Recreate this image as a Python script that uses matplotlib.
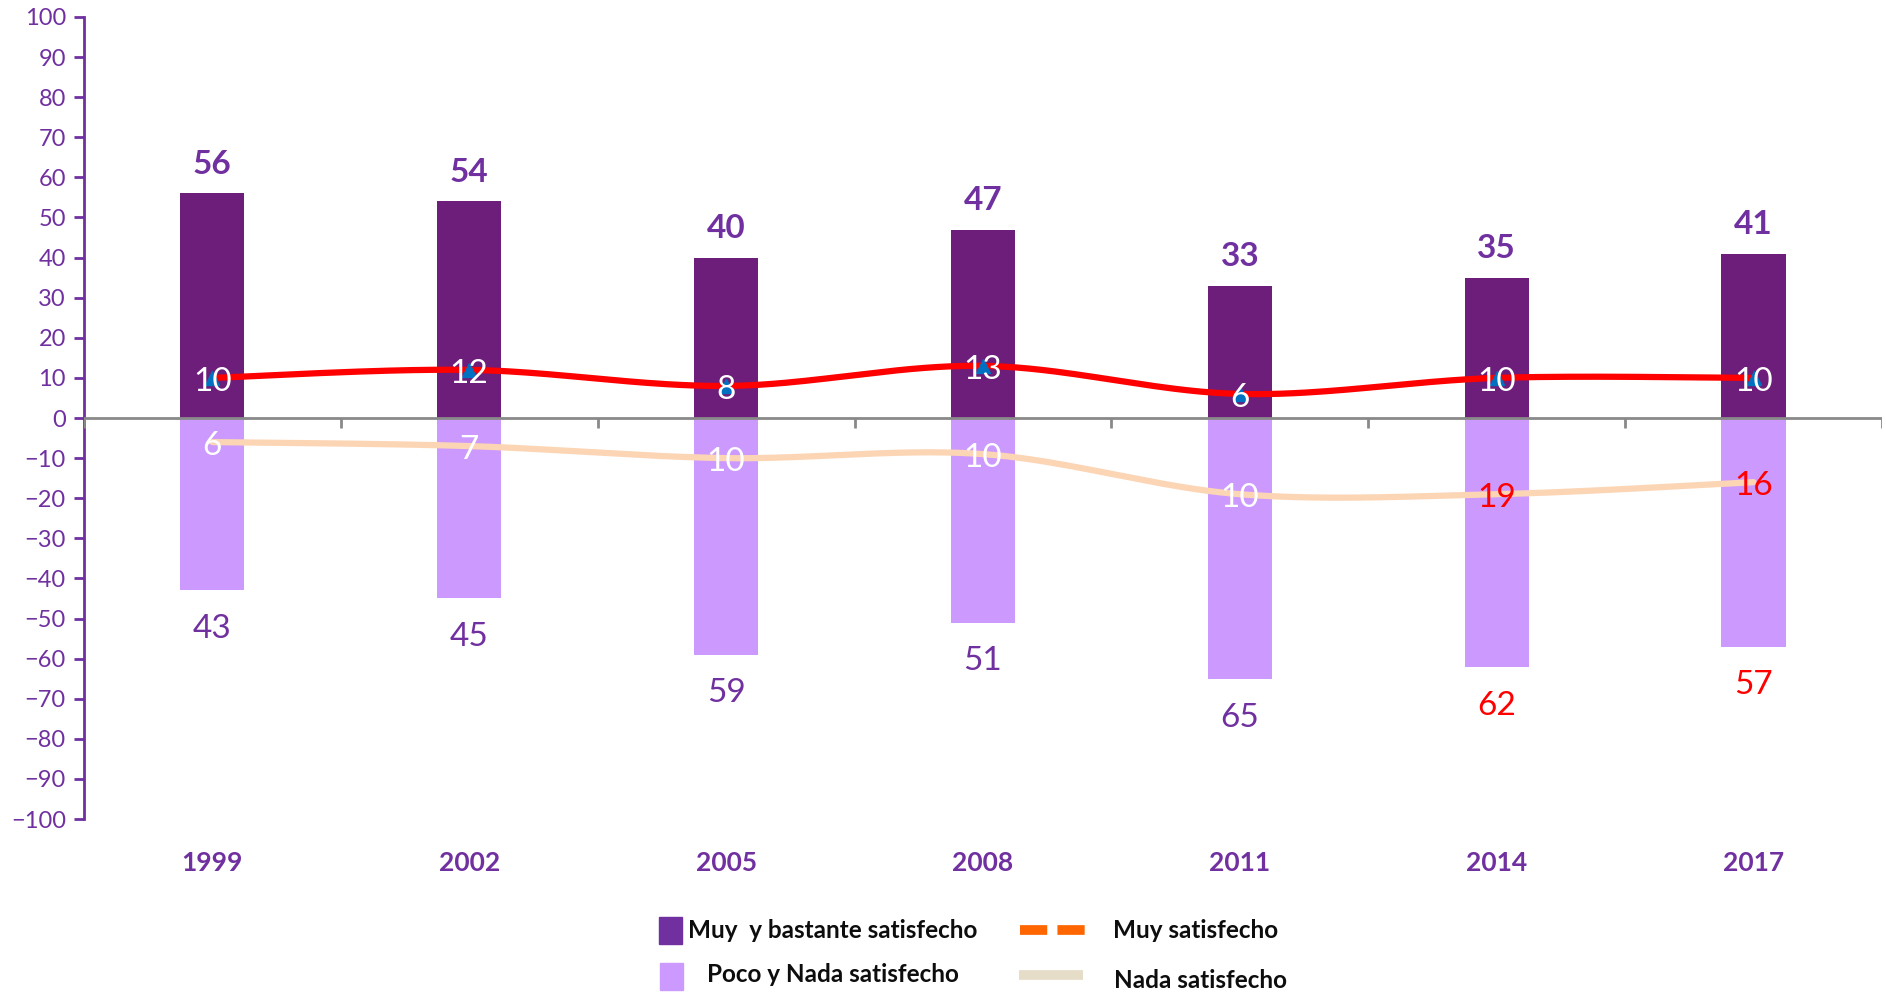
import numpy as np
import matplotlib
matplotlib.use('Agg')
import matplotlib.pyplot as plt
from matplotlib.patches import Rectangle
from matplotlib.lines import Line2D

plt.rcParams['font.family'] = ['Lato', 'DejaVu Sans']

years = ['1999', '2002', '2005', '2008', '2011', '2014', '2017']
muy_bastante = [56, 54, 40, 47, 33, 35, 41]
poco_nada = [-43, -45, -59, -51, -65, -62, -57]
muy_satisf = [10, 12, 8, 13, 6, 10, 10]
nada_satisf = [-6, -7, -10, -9, -19, -19, -16]
nada_labels = ['6', '7', '10', '10', '10', '19', '16']
label_colors = ['#FFFFFF', '#FFFFFF', '#FFFFFF', '#FFFFFF', '#FFFFFF', '#FF0000', '#FF0000']
neg_label_colors = ['#7030A0', '#7030A0', '#7030A0', '#7030A0', '#7030A0', '#FF0000', '#FF0000']

PURPLE = '#7030A0'
DARK = '#6C1E7A'
LIGHT = '#CC99FF'


def smooth(xs, ys, n=40):
    # catmull-rom curve, like excel's smoothed line
    p = np.column_stack([xs, ys]).astype(float)
    p = np.vstack([p[0], p, p[-1]])
    out = []
    for i in range(1, len(p) - 2):
        p0, p1, p2, p3 = p[i - 1], p[i], p[i + 1], p[i + 2]
        t = np.linspace(0, 1, n)[:, None]
        seg = 0.5 * (2 * p1 + (-p0 + p2) * t + (2 * p0 - 5 * p1 + 4 * p2 - p3) * t ** 2
                     + (-p0 + 3 * p1 - 3 * p2 + p3) * t ** 3)
        out.append(seg)
    out = np.vstack(out)
    return out[:, 0], out[:, 1]


def fx(px):
    return px / 1886


def fy(py):
    return 1 - py / 993


fig = plt.figure(figsize=(18.86, 9.93), dpi=100)
ax = fig.add_axes([0.0445, 0.1752, 0.9534, 0.8077])
x = np.arange(len(years))

ax.bar(x, muy_bastante, width=0.25, color=DARK, zorder=2)
ax.bar(x, poco_nada, width=0.25, color=LIGHT, zorder=2)

ax.axhline(0, color='#898989', lw=2, zorder=3)
ax.vlines(np.arange(-0.5, len(years)), -2.5, 0, color='#898989', lw=2, zorder=3)

sx, sy = smooth(x, nada_satisf)
ax.plot(sx, sy, color='#FCD5B5', lw=4.5, zorder=4, solid_capstyle='round')
sx, sy = smooth(x, muy_satisf)
ax.plot(sx, sy, color='#FF0000', lw=4.5, zorder=5, solid_capstyle='round')
ax.plot(x, muy_satisf, ls='none', marker='^', ms=10, color='#0070C0', zorder=5)

for i in range(len(years)):
    ax.annotate(str(muy_bastante[i]), (x[i], muy_bastante[i]), xytext=(0, 14),
                textcoords='offset points', ha='center', va='baseline',
                fontsize=24, fontweight='bold', color=PURPLE, zorder=6)
    ax.annotate(str(-poco_nada[i]), (x[i], poco_nada[i]), xytext=(0, -28),
                textcoords='offset points', ha='center', va='center',
                fontsize=24, color=neg_label_colors[i], zorder=6)
    ax.annotate(str(muy_satisf[i]), (x[i], muy_satisf[i]), xytext=(0, -3),
                textcoords='offset points', ha='center', va='center',
                fontsize=24, color='white', zorder=7)
    ax.annotate(nada_labels[i], (x[i], nada_satisf[i]), xytext=(0, -3),
                textcoords='offset points', ha='center', va='center',
                fontsize=24, color=label_colors[i], zorder=7)

ax.set_xlim(-0.5, len(years) - 0.5)
ax.set_ylim(-100, 100)
ax.set_yticks(range(-100, 101, 10))
ax.tick_params(axis='y', colors=PURPLE, labelcolor=PURPLE, labelsize=17, length=7, width=2, pad=6)
ax.set_xticks([])
for s in ['top', 'right', 'bottom']:
    ax.spines[s].set_visible(False)
ax.spines['left'].set_color(PURPLE)
ax.spines['left'].set_linewidth(2)

for i, yr in enumerate(years):
    ax.text(x[i], -111, yr, ha='center', va='center', fontsize=19, fontweight='bold',
            color=PURPLE, clip_on=False)

# legend drawn by hand
fig.patches.append(Rectangle((fx(659), fy(944)), 23 / 1886, 27 / 993,
                             transform=fig.transFigure, color='#7030A0'))
fig.patches.append(Rectangle((fx(660), fy(990)), 23 / 1886, 27 / 993,
                             transform=fig.transFigure, color='#CC99FF'))
fig.lines.append(Line2D([fx(1020), fx(1085)], [fy(930)] * 2, transform=fig.transFigure,
                        color='#FF6600', lw=7, dashes=(2.8, 1.05), dash_capstyle='butt'))
fig.lines.append(Line2D([fx(1019), fx(1083)], [fy(975)] * 2, transform=fig.transFigure,
                        color='#E6DDC8', lw=7, solid_capstyle='butt'))
legend_font = dict(ha='left', va='center', fontsize=17.5, fontweight='bold', color='#0D0D0D')
fig.text(fx(688), fy(931), 'Muy  y bastante satisfecho', **legend_font)
fig.text(fx(707), fy(974), 'Poco y Nada satisfecho', **legend_font)
fig.text(fx(1113), fy(930), 'Muy satisfecho', **legend_font)
fig.text(fx(1114), fy(980), 'Nada satisfecho', **legend_font)

fig.savefig('out.png', dpi=100)
